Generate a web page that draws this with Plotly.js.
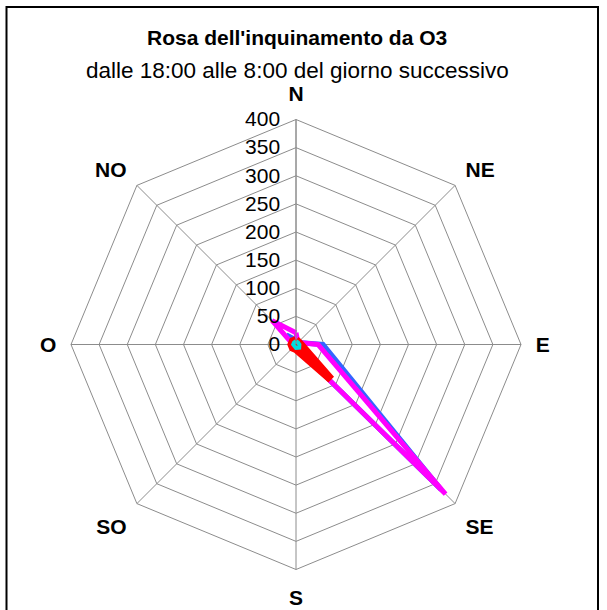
<!DOCTYPE html>
<html>
<head>
<meta charset="utf-8">
<script src="https://cdn.plot.ly/plotly-3.0.1.min.js"></script>
<style>
  body { margin: 0; background: #fff; }
  #rosa { width: 607px; height: 610px; }
</style>
</head>
<body>
<div id="rosa"></div>
<script>
// direzioni del vento (in senso orario da N)
var direzioni = ["N", "NE", "E", "SE", "S", "SO", "O", "NO"];

// valori, una serie per colore
var serieRossa   = [8, 6, 8, 88, 8, 8, 8, 8];
var serieBlu     = [8, 5, 48, 365, 5, 5, 5, 24];
var serieMagenta = [21, 5, 39, 376, 5, 5, 5, 60];
var serieCiano   = [6, 5, 6, 8, 6, 4, 5, 5];

// chiude il poligono ripetendo il primo punto
function chiudi(arr) { return arr.concat([arr[0]]); }

function traccia(valori, colore, spessore) {
  return {
    type: "scatterpolar",
    mode: "lines",
    r: chiudi(valori),
    theta: chiudi(direzioni),
    line: {color: colore, width: spessore},
    hoverinfo: "r+theta"
  };
}

var data = [
  traccia(serieBlu, "#3366ff", 5),
  traccia(serieMagenta, "#ff00ff", 5),
  traccia(serieRossa, "#ff0000", 8),
  traccia(serieCiano, "#00dddd", 4)
];

var grigio = "#8c8c8c";
var font = "Liberation Sans, Arial, sans-serif";

var layout = {
  width: 607,
  height: 610,
  margin: {l: 0, r: 0, t: 0, b: 0},
  paper_bgcolor: "#fff",
  showlegend: false,
  font: {family: font, color: "#000"},
  polar: {
    domain: {x: [71 / 607, 521 / 607], y: [40.5 / 610, 490.5 / 610]},
    gridshape: "linear",
    bgcolor: "#fff",
    radialaxis: {
      range: [0, 400],
      dtick: 50,
      angle: 90,
      side: "counterclockwise",
      tickangle: 90,
      ticks: "outside",
      ticklen: 8,
      tickcolor: "rgba(0,0,0,0)",
      showline: true,
      linecolor: grigio,
      linewidth: 1,
      gridcolor: grigio,
      gridwidth: 1,
      tickfont: {family: font, size: 21, color: "#000"}
    },
    angularaxis: {
      rotation: 90,
      direction: "clockwise",
      type: "category",
      categoryarray: direzioni,
      linecolor: grigio,
      linewidth: 1,
      gridcolor: grigio,
      ticks: "outside",
      ticklen: 10,
      tickcolor: "rgba(0,0,0,0)",
      tickfont: {family: font, size: 21, color: "#000", weight: "bold"}
    }
  },
  annotations: [
    {text: "Rosa dell'inquinamento da O3", xref: "paper", yref: "paper",
     x: 297 / 607, y: 1 - 37 / 610, yanchor: "middle", showarrow: false,
     font: {family: font, size: 21, weight: "bold"}},
    {text: "dalle 18:00 alle 8:00 del giorno successivo", xref: "paper", yref: "paper",
     x: 297 / 607, y: 1 - 70 / 610, yanchor: "middle", showarrow: false,
     font: {family: font, size: 22.5}}
  ],
  shapes: [
    {type: "rect", xref: "paper", yref: "paper",
     x0: 6.5 / 607, x1: 598 / 607, y0: -0.05, y1: 1 - 7 / 610,
     line: {color: "#000", width: 2}}
  ]
};

Plotly.newPlot("rosa", data, layout, {displayModeBar: false});
</script>
</body>
</html>
